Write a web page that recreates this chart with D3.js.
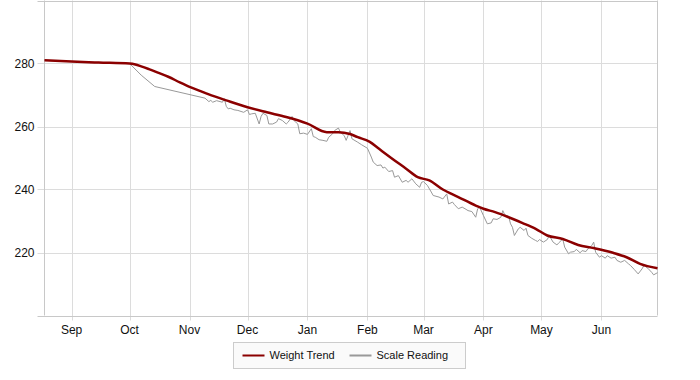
<!DOCTYPE html>
<html>
<head>
<meta charset="utf-8">
<script src="https://cdn.jsdelivr.net/npm/d3@7"></script>
<style>
  body { margin: 0; background: #fff; }
  svg { display: block; font-family: "Liberation Sans", Arial, sans-serif; }
</style>
</head>
<body>
<svg id="chart" width="700" height="380"></svg>
<script>
// Data (day offsets counted from the first reading, 18 Aug 2011)
const startDate = new Date(2011, 7, 18);
const endDay = 317;

const trendDays = [0, 14, 28, 44, 47, 50, 54, 59, 64, 70, 75, 80, 85, 94, 105, 115, 125, 136, 146, 152, 158, 162, 168, 173,
  180, 187, 193, 199, 206, 214, 223, 227, 233, 240, 247, 254, 260, 268, 276, 284, 294, 301, 308, 317];
const trendValues = [281.0, 280.6, 280.3, 280.0, 279.7, 279.1, 278.2, 277.0, 275.8, 274.0, 272.6, 271.4, 270.2, 268.3, 266.1, 264.5, 263.0, 260.9, 258.2, 258.2, 257.6, 256.6, 255.2, 252.9,
  249.7, 246.6, 243.9, 242.9, 240.0, 237.6, 234.9, 233.9, 232.8, 231.2, 229.4, 227.5, 225.4, 224.3, 222.4, 221.4, 219.9, 218.5, 216.4, 215.0];

const scaleDays = [0, 14, 28, 44, 50, 57, 83, 85, 86, 87, 89, 92, 93, 94, 95, 96, 98, 100, 103, 105,
  106, 107, 109, 111, 112, 113, 115, 116, 118, 120, 121, 123, 125, 126, 128, 129, 131, 132, 134, 136,
  138, 139, 140, 142, 144, 146, 147, 149, 150, 152, 153, 155, 156, 158, 159, 162, 164, 167, 169, 170,
  172, 174, 175, 176, 178, 180, 181, 183, 185, 187, 188, 190, 192, 194, 195, 196, 198, 200, 201, 204,
  206, 208, 209, 211, 212, 214, 216, 218, 219, 221, 223, 224, 225, 227, 229, 231, 232, 234, 236, 237,
  238, 240, 241, 242, 243, 245, 246, 248, 249, 250, 252, 254, 255, 256, 258, 260, 261, 263, 265, 266,
  268, 269, 271, 272, 274, 275, 277, 278, 280, 281, 283, 284, 285, 287, 288, 290, 291, 293, 295, 296,
  298, 300, 302, 303, 305, 307, 309, 310, 312, 314, 315, 317];
const scaleValues = [281.0, 280.6, 280.3, 280.0, 276.3, 272.7, 269.0, 267.9, 268.3, 267.7, 268.2, 267.7, 268.8, 266.4, 265.6, 265.8, 265.3, 265.1, 264.5, 265.3,
  263.8, 264.0, 264.2, 260.8, 263.2, 264.2, 263.5, 260.8, 260.8, 261.4, 262.5, 261.9, 260.8, 261.4, 263.2, 261.9, 260.8, 257.7, 257.9, 257.5,
  259.3, 256.8, 256.6, 255.8, 255.6, 255.3, 256.6, 257.7, 258.7, 259.5, 258.2, 257.1, 255.6, 258.7, 256.1, 255.0, 254.2, 253.1, 250.3, 248.7,
  247.6, 247.8, 246.8, 247.1, 245.7, 246.0, 243.9, 244.4, 242.3, 242.9, 242.3, 243.4, 241.8, 240.7, 242.3, 242.5, 241.3, 239.2, 238.1, 237.6,
  237.0, 238.6, 235.4, 236.0, 235.2, 233.9, 234.4, 233.7, 233.3, 233.0, 231.2, 233.9, 234.4, 231.7, 229.1, 229.4, 230.7, 230.5, 231.2, 233.3,
  232.0, 231.5, 229.1, 228.0, 225.4, 227.5, 228.0, 227.0, 227.7, 225.4, 224.5, 223.8, 223.5, 224.1, 223.3, 224.1, 225.4, 223.3, 222.4, 223.1,
  224.3, 221.7, 219.6, 220.1, 220.3, 221.0, 219.9, 220.6, 220.3, 221.2, 222.2, 223.3, 220.1, 218.5, 219.0, 218.2, 219.0, 218.2, 218.5, 217.5,
  216.9, 217.5, 216.4, 215.9, 214.6, 213.2, 214.8, 215.9, 215.0, 213.7, 212.9, 213.6];

const yTicks = [200, 220, 240, 260, 280, 300];
const yLabels = [220, 240, 260, 280];
const seriesNames = ['Weight Trend', 'Scale Reading'];
const seriesColors = ['#8b0000', '#999999'];

const toDate = d => d3.timeDay.offset(startDate, d);
const trend = trendDays.map((d, i) => ({ date: toDate(d), value: trendValues[i] }));
const scale = scaleDays.map((d, i) => ({ date: toDate(d), value: scaleValues[i] }));

const plotLeft = 44.5, plotRight = 657.5, plotTop = 0.5, plotBottom = 315.5;
const svg = d3.select('#chart');

const x = d3.scaleTime().domain([startDate, toDate(endDay)]).range([plotLeft, plotRight]);
const y = d3.scaleLinear().domain([200, 300]).range([plotBottom, plotTop]);

// Grid
const months = x.ticks(d3.timeMonth.every(1)).filter(d => d > startDate);
svg.append('g').selectAll('line').data(months).join('line')
  .attr('x1', d => Math.round(x(d)) + 0.5).attr('x2', d => Math.round(x(d)) + 0.5)
  .attr('y1', plotTop).attr('y2', plotBottom + 5)
  .attr('stroke', '#dcdcdc');

svg.append('g').selectAll('line').data(yTicks).join('line')
  .attr('x1', plotLeft - 7).attr('x2', plotRight)
  .attr('y1', d => Math.round(y(d)) + 0.5).attr('y2', d => Math.round(y(d)) + 0.5)
  .attr('stroke', d => d === 200 || d === 300 ? '#c8c8c8' : '#dcdcdc');

// Frame
svg.append('line').attr('x1', plotLeft).attr('x2', plotLeft).attr('y1', plotTop).attr('y2', plotBottom).attr('stroke', '#c8c8c8');
svg.append('line').attr('x1', plotRight).attr('x2', plotRight).attr('y1', plotTop).attr('y2', plotBottom).attr('stroke', '#c8c8c8');

// Tick labels
svg.append('g').selectAll('text').data(yLabels).join('text')
  .attr('x', plotLeft - 10).attr('y', d => y(d))
  .attr('dy', '0.35em').attr('text-anchor', 'end')
  .attr('font-size', 12).attr('fill', '#111')
  .text(d => d);

svg.append('g').selectAll('text').data(months).join('text')
  .attr('x', d => x(d)).attr('y', plotBottom + 18)
  .attr('text-anchor', 'middle')
  .attr('font-size', 12).attr('fill', '#111')
  .text(d => d3.timeFormat('%b')(d));

// Lines
const line = d3.line().x(d => x(d.date)).y(d => y(d.value));

svg.append('path').datum(scale)
  .attr('fill', 'none').attr('stroke', seriesColors[1]).attr('stroke-width', 1)
  .attr('d', line);

svg.append('path').datum(trend)
  .attr('fill', 'none').attr('stroke', seriesColors[0]).attr('stroke-width', 2.5)
  .attr('stroke-linejoin', 'round')
  .attr('d', line.curve(d3.curveMonotoneX));

// Legend
const legend = svg.append('g').attr('transform', 'translate(233.5,342.5)');
legend.append('rect').attr('width', 232).attr('height', 26)
  .attr('fill', '#fafafa').attr('stroke', '#cccccc');
const items = legend.selectAll('g').data(seriesNames).join('g')
  .attr('transform', (d, i) => `translate(${i === 0 ? 9 : 116},13)`);
items.append('line').attr('x1', 0).attr('x2', 22)
  .attr('stroke', (d, i) => seriesColors[i]).attr('stroke-width', 2);
items.append('text').attr('x', 27).attr('dy', '0.35em')
  .attr('font-size', 11).attr('fill', '#111')
  .text(d => d);
</script>
</body>
</html>
